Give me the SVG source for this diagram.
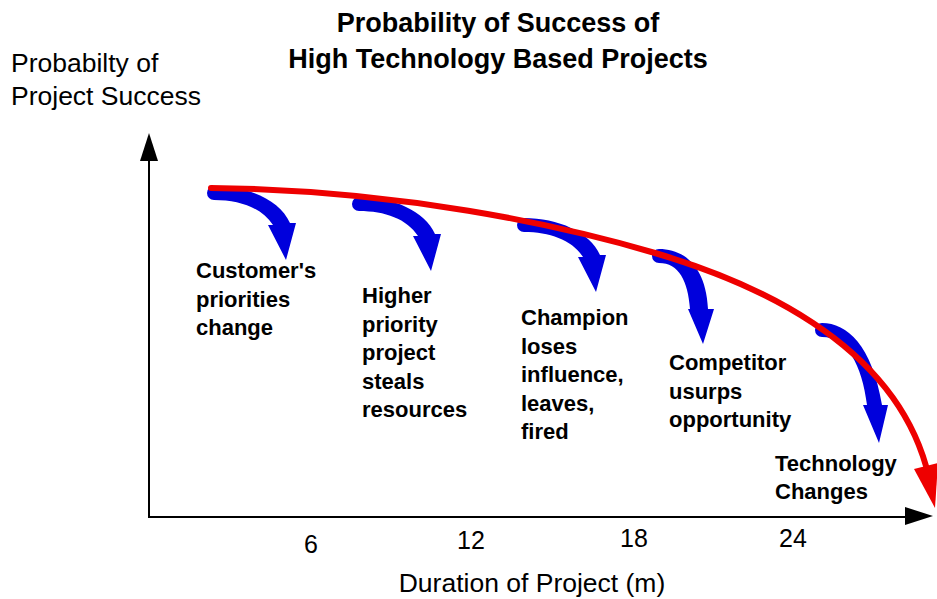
<svg xmlns="http://www.w3.org/2000/svg" width="937" height="599" viewBox="0 0 937 599">
<style>
.title{font-family:"Liberation Sans",Arial,sans-serif;font-weight:bold;font-size:27px;fill:#000;text-anchor:middle}
.axis-label{font-family:"Liberation Sans",Arial,sans-serif;font-size:26.5px;fill:#000}
.tick{font-family:"Liberation Sans",Arial,sans-serif;font-size:25px;fill:#000;text-anchor:middle}
.lbl{font-family:"Liberation Sans",Arial,sans-serif;font-weight:bold;font-size:22px;fill:#000}
.blue{fill:#0000dc}
.axis{stroke:#000;stroke-width:2;fill:none}
.red{stroke:#ee0000;stroke-width:6;fill:none;stroke-linecap:round}
</style>
<defs>
<path id="shapeA" d="M0,-7 C34,-7 66,7 76,30 L82,30 L72,67 L54,32 L59,32 C48,15 26,7 0,7 A7,7 0 0 1 0,-7 Z"/>
</defs>
<g id="title">
<text class="title" x="498" y="32">Probability of Success of</text>
<text class="title" x="498" y="68">High Technology Based Projects</text>
</g>
<g id="axes">
<text class="axis-label" x="11" y="71.5">Probabilty of</text>
<text class="axis-label" x="11" y="105">Project Success</text>
<line class="axis" x1="149" y1="518" x2="149" y2="158"/>
<polygon points="149,133 140,161 158,161" fill="#000"/>
<line class="axis" x1="148" y1="517" x2="908" y2="517"/>
<polygon points="933,516 905,507 905,525" fill="#000"/>
<text class="tick" x="311" y="553">6</text>
<text class="tick" x="471" y="549">12</text>
<text class="tick" x="634" y="547">18</text>
<text class="tick" x="793" y="547">24</text>
<text class="axis-label" x="532" y="592" text-anchor="middle">Duration of Project (m)</text>
</g>
<g id="node-customer">
<use href="#shapeA" class="blue" transform="translate(214,193)"/>
<text class="lbl"><tspan x="196" y="278">Customer's</tspan><tspan x="196" y="306.5">priorities</tspan><tspan x="196" y="335">change</tspan></text>
</g>
<g id="node-higher">
<use href="#shapeA" class="blue" transform="translate(359,204)"/>
<text class="lbl"><tspan x="362" y="303">Higher</tspan><tspan x="362" y="331.5">priority</tspan><tspan x="362" y="360">project</tspan><tspan x="362" y="388.5">steals</tspan><tspan x="362" y="417">resources</tspan></text>
</g>
<g id="node-champion">
<use href="#shapeA" class="blue" transform="translate(524,225)"/>
<text class="lbl"><tspan x="521" y="325">Champion</tspan><tspan x="521" y="353.5">loses</tspan><tspan x="521" y="382">influence,</tspan><tspan x="521" y="410.5">leaves,</tspan><tspan x="521" y="439">fired</tspan></text>
</g>
<g id="node-competitor">
<path class="blue" transform="translate(659,256)" d="M0,-7 C25,-7 47,10 49,53 L55,53 L44,88 L29,53 L31,53 C29,25 20,7 0,7 A7,7 0 0 1 0,-7 Z"/>
<text class="lbl"><tspan x="669" y="370">Competitor</tspan><tspan x="669" y="398.5">usurps</tspan><tspan x="669" y="427">opportunity</tspan></text>
</g>
<g id="node-technology">
<path class="blue" transform="translate(822,330)" d="M0,-7 C25,-7 50,15 60,75 L66,75 L57,113 L41,75 L45,75 C40,35 25,7 0,7 A7,7 0 0 1 0,-7 Z"/>
<text class="lbl"><tspan x="775" y="471">Technology</tspan><tspan x="775" y="499">Changes</tspan></text>
</g>
<g id="connectors">
<path class="red" d="M211,188 C400,190 560,225 655,253 S890,340 926,466"/>
<polygon points="914,469 938,463 935,508" fill="#ee0000"/>
</g>
</svg>
